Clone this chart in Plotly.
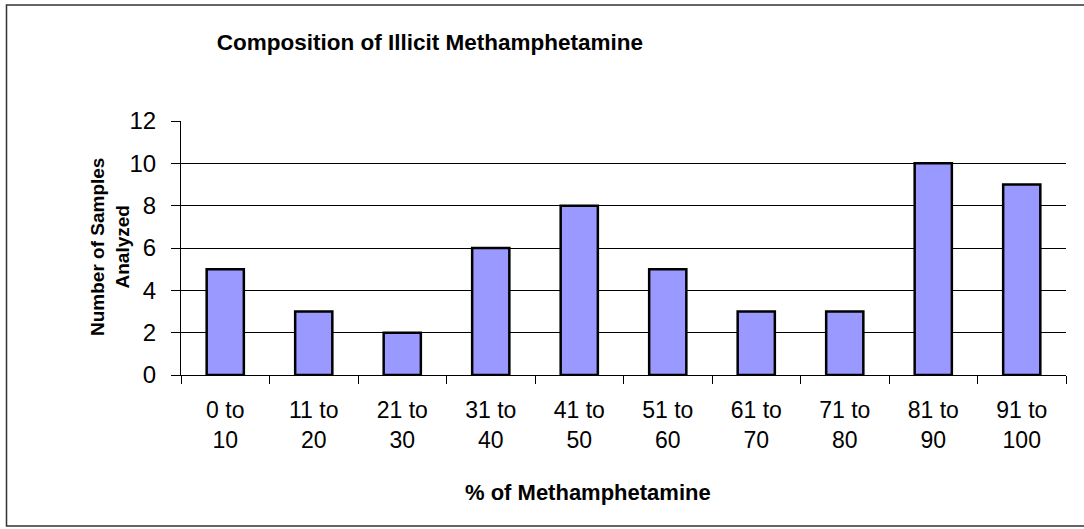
import plotly.graph_objects as go

# Données
categories = ["0 to<br>10", "11 to<br>20", "21 to<br>30", "31 to<br>40", "41 to<br>50",
              "51 to<br>60", "61 to<br>70", "71 to<br>80", "81 to<br>90", "91 to<br>100"]
samples = [5, 3, 2, 6, 8, 5, 3, 3, 10, 9]
y_ticks = [0, 2, 4, 6, 8, 10, 12]

title_text = "Composition of Illicit Methamphetamine"
x_title_text = "% of Methamphetamine"
y_title_text = "Number of Samples<br>Analyzed"

FONT = "Arial, Liberation Sans, sans-serif"
W, H = 1084, 529
L, R, T, B = 181, 18, 121, 154
pw, ph = W - L - R, H - T - B


def px_x(x):
    return (x - L) / pw


def px_y(y):
    return (H - B - y) / ph


fig = go.Figure(
    go.Bar(
        x=categories,
        y=samples,
        marker=dict(color="#9999FF", line=dict(color="black", width=2.5)),
        name="",
    )
)

fig.update_layout(
    width=W,
    height=H,
    margin=dict(l=L, r=R, t=T, b=B, autoexpand=False),
    paper_bgcolor="white",
    plot_bgcolor="white",
    showlegend=False,
    bargap=0.58,
    font=dict(family=FONT, color="black"),
    title=dict(
        text="<b>" + title_text + "</b>",
        x=430 / W,
        xref="container",
        xanchor="center",
        y=1 - 42 / H,
        yref="container",
        yanchor="middle",
        font=dict(size=22.5, family=FONT, color="black"),
    ),
)

fig.update_xaxes(
    showline=True,
    linecolor="black",
    linewidth=1,
    ticks="outside",
    tickson="boundaries",
    ticklen=8,
    tickcolor="black",
    tickfont=dict(size=23, family=FONT, color="black"),
    ticklabelstandoff=14,
    showgrid=False,
)

fig.update_yaxes(
    range=[0, 12],
    tickvals=y_ticks,
    showline=True,
    linecolor="black",
    linewidth=1,
    ticks="outside",
    ticklen=9,
    tickcolor="black",
    tickfont=dict(size=24, family=FONT, color="black"),
    ticklabelstandoff=10,
    showgrid=True,
    gridcolor="black",
    gridwidth=1,
    zeroline=False,
)

# Titres des axes
fig.add_annotation(
    text="<b>" + x_title_text + "</b>",
    xref="paper", yref="paper",
    x=px_x(588), y=px_y(492),
    xanchor="center", yanchor="middle",
    showarrow=False,
    font=dict(size=22, family=FONT, color="black"),
)
fig.add_annotation(
    text="<b>" + y_title_text + "</b>",
    xref="paper", yref="paper",
    x=px_x(110), y=px_y(247),
    xanchor="center", yanchor="middle",
    textangle=-90,
    showarrow=False,
    font=dict(size=19, family=FONT, color="black"),
)

# Cadre du graphique
fig.add_shape(
    type="rect",
    xref="paper", yref="paper",
    x0=px_x(6.5), x1=px_x(1095), y0=px_y(526), y1=px_y(5),
    line=dict(color="#333333", width=1.5),
    fillcolor="rgba(0,0,0,0)",
    layer="below",
)

# La page ajoute une marge de 8 px autour du graphique : on la retire
fig.write_html(
    "out.html",
    config={"displayModeBar": False},
    post_script="document.body.style.margin = '0';",
)
